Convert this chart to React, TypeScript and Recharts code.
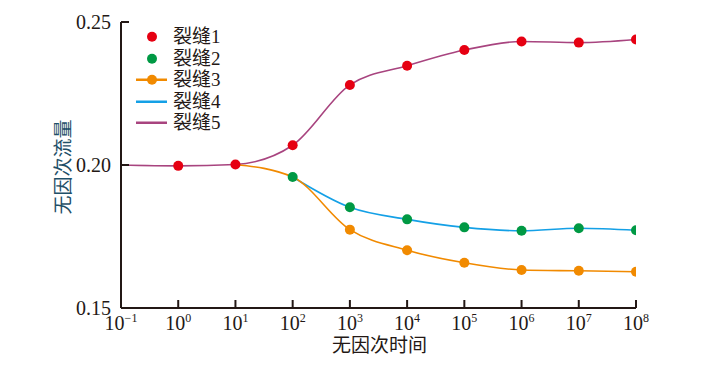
import React from 'react';
import { ComposedChart, Line, Scatter, XAxis, YAxis, Legend } from 'recharts';

// ---- data ----
const xTicks = [0.1, 1, 10, 1e2, 1e3, 1e4, 1e5, 1e6, 1e7, 1e8];
const xTickExps = ['−1', '0', '1', '2', '3', '4', '5', '6', '7', '8'];
const yTicks = [0.15, 0.2, 0.25];

const crack1X = [1, 10, 1e2, 1e3, 1e4, 1e5, 1e6, 1e7, 1e8];
const crack1Y = [0.1997, 0.2002, 0.2069, 0.228, 0.2347, 0.2402, 0.2432, 0.2428, 0.2439];

const crack2X = [1e2, 1e3, 1e4, 1e5, 1e6, 1e7, 1e8];
const crack2Y = [0.1958, 0.1852, 0.181, 0.1782, 0.177, 0.1779, 0.1772];

const crack3X = [10, 1e2, 1e3, 1e4, 1e5, 1e6, 1e7, 1e8];
const crack3Y = [0.2002, 0.1958, 0.1774, 0.1702, 0.1658, 0.1633, 0.163, 0.1627];

const crack4X = [1e2, 1e3, 1e4, 1e5, 1e6, 1e7, 1e8];
const crack4Y = [0.1958, 0.1852, 0.181, 0.1782, 0.177, 0.1779, 0.1772];

const crack5X = [0.1, 1, 10, 1e2, 1e3, 1e4, 1e5, 1e6, 1e7, 1e8];
const crack5Y = [0.2, 0.1997, 0.2002, 0.2069, 0.228, 0.2347, 0.2402, 0.2432, 0.2428, 0.2439];

const seriesNames = ['裂缝1', '裂缝2', '裂缝3', '裂缝4', '裂缝5'];
const seriesColors = ['#e60012', '#009944', '#f18a00', '#14a0e6', '#a8447f'];
const seriesKinds = ['dot', 'dot', 'linedot', 'line', 'line'];

const toPts = (xs: number[], ys: number[]) => xs.map((x, i) => ({ x, y: ys[i] }));
const d1 = toPts(crack1X, crack1Y);
const d2 = toPts(crack2X, crack2Y);
const d3 = toPts(crack3X, crack3Y);
const d4 = toPts(crack4X, crack4Y);
const d5 = toPts(crack5X, crack5Y);

const AXIS = '#231815';
const SERIF = '"Liberation Serif", "Times New Roman", "Noto Sans CJK SC", serif';

const XTick = (props: any) => {
  const { x, y, payload, index } = props;
  const i = xTicks.indexOf(payload.value);
  const exp = xTickExps[i >= 0 ? i : index];
  return (
    <g>
      <line x1={x} y1={y} x2={x} y2={y - 8} stroke={AXIS} strokeWidth={2} />
      <text x={x} y={y + 22} textAnchor="middle" fontFamily={SERIF} fontSize={20} fill={AXIS}>
        <tspan>10</tspan>
        <tspan dy={-8} fontSize={12}>{exp}</tspan>
      </text>
    </g>
  );
};

const YTick = (props: any) => {
  const { x, y, payload } = props;
  return (
    <g>
      <line x1={x} y1={y} x2={x + 8} y2={y} stroke={AXIS} strokeWidth={2} />
      <text x={x - 10} y={y} dy={7} textAnchor="end" fontFamily={SERIF} fontSize={20} fill={AXIS}>
        {Number(payload.value).toFixed(2)}
      </text>
    </g>
  );
};

const orangeDot = (props: any) => {
  const { cx, cy, payload, index } = props;
  if (payload && payload.x >= 1000) {
    return <circle key={`od-${index}`} cx={cx} cy={cy} r={5} fill={seriesColors[2]} />;
  }
  return <g key={`od-${index}`} />;
};

const renderLegend = () => (
  <div style={{ fontFamily: SERIF, fontSize: 19, color: AXIS }}>
    {seriesNames.map((name, i) => (
      <div key={name} style={{ display: 'flex', alignItems: 'center', height: 21.5 }}>
        <svg width={32} height={21.5} style={{ display: 'block' }}>
          {seriesKinds[i] !== 'dot' && (
            <line x1={0} y1={10.75} x2={31} y2={10.75} stroke={seriesColors[i]} strokeWidth={2.5} />
          )}
          {seriesKinds[i] !== 'line' && <circle cx={16} cy={10.75} r={5} fill={seriesColors[i]} />}
        </svg>
        <span style={{ marginLeft: 5, lineHeight: '21.5px', whiteSpace: 'nowrap' }}>{name}</span>
      </div>
    ))}
  </div>
);

export default function App() {
  return (
    <ComposedChart
      width={690}
      height={350}
      margin={{ top: 14, left: 0, right: 62, bottom: 0 }}
      style={{ overflow: 'visible' }}
    >
      <XAxis
        dataKey="x"
        type="number"
        scale="log"
        domain={[0.1, 1e8]}
        ticks={xTicks}
        allowDataOverflow
        height={50}
        tickSize={0}
        tickMargin={0}
        tickLine={false}
        axisLine={{ stroke: AXIS, strokeWidth: 2 }}
        tick={<XTick />}
        interval={0}
        label={{
          content: () => (
            <text x={371.5} y={344} textAnchor="middle" fontFamily={SERIF} fontSize={19} fill={AXIS}>
              无因次时间
            </text>
          ),
        }}
      />
      <YAxis
        dataKey="y"
        type="number"
        domain={[0.15, 0.25]}
        ticks={yTicks}
        allowDataOverflow
        width={113}
        tickSize={0}
        tickMargin={0}
        tickLine={false}
        axisLine={{ stroke: AXIS, strokeWidth: 2 }}
        tick={<YTick />}
        interval={0}
        label={{
          content: () => (
            <text
              x={55}
              y={159}
              textAnchor="middle"
              dominantBaseline="central"
              transform="rotate(-90 55 159)"
              fontFamily={SERIF}
              fontSize={19}
              fill="#1f5068"
            >
              无因次流量
            </text>
          ),
        }}
      />
      <Legend
        layout="vertical"
        align="center"
        verticalAlign="middle"
        content={renderLegend}
        wrapperStyle={{ left: 128, top: 18, width: 120, height: 110 }}
      />
      <Line data={d5} dataKey="y" type="monotone" stroke={seriesColors[4]} strokeWidth={1.6} dot={false} isAnimationActive={false} />
      <Line data={d4} dataKey="y" type="monotone" stroke={seriesColors[3]} strokeWidth={1.6} dot={false} isAnimationActive={false} />
      <Line data={d3} dataKey="y" type="monotone" stroke={seriesColors[2]} strokeWidth={1.6} dot={orangeDot} isAnimationActive={false} />
      <Scatter data={d2} dataKey="y" fill={seriesColors[1]} isAnimationActive={false}
        shape={(p: any) => <circle cx={p.cx} cy={p.cy} r={5} fill={seriesColors[1]} />} />
      <Scatter data={d1} dataKey="y" fill={seriesColors[0]} isAnimationActive={false}
        shape={(p: any) => <circle cx={p.cx} cy={p.cy} r={5} fill={seriesColors[0]} />} />
    </ComposedChart>
  );
}
